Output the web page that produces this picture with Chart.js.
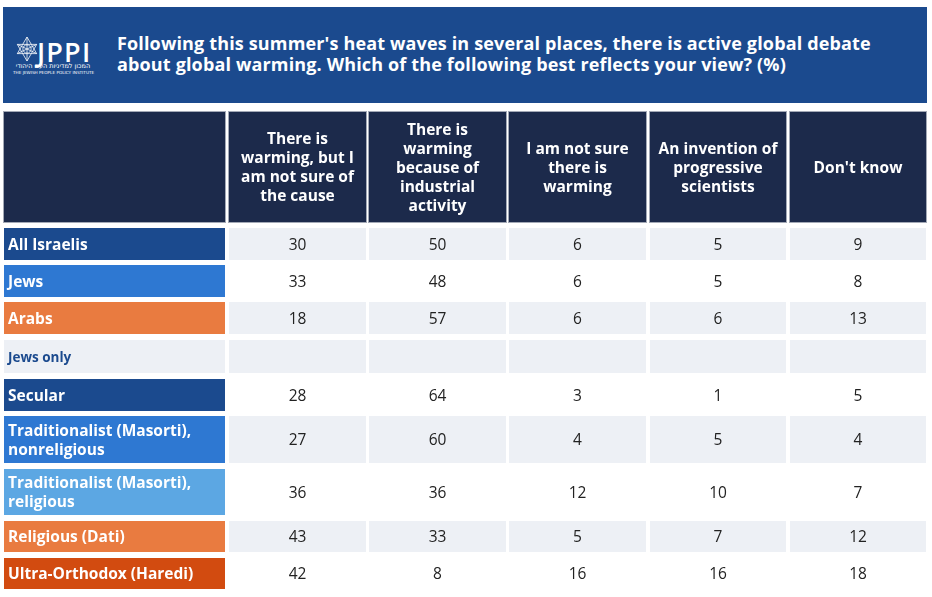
<!DOCTYPE html>
<html>
<head>
<meta charset="utf-8">
<script src="https://cdn.jsdelivr.net/npm/chart.js@4.4.1/dist/chart.umd.min.js"></script>
<style>
  html, body { margin: 0; padding: 0; background: #fff; width: 932px; height: 597px; overflow: hidden; }
  #band { position: absolute; left: 3px; top: 7px; width: 924px; height: 96px; background: #1B4A8E; }
  #title { position: absolute; left: 117px; top: 33px; color: #fff; font-family: "Open Sans", sans-serif; font-weight: 700; font-size: 18px; line-height: 21px; letter-spacing: 0.15px; white-space: nowrap; }
  #logo { position: absolute; left: 12px; top: 30px; width: 84px; height: 48px; }
  #jppi { position: absolute; left: 25px; top: 8px; color: #fff; font-family: "Open Sans", sans-serif; font-weight: 600; font-size: 27px; line-height: 27px; letter-spacing: 1.2px; }
  #heb { position: absolute; left: 1px; top: 33px; width: 80px; text-align: center; color: #fff; font-family: "DejaVu Sans", sans-serif; font-size: 6.5px; line-height: 7px; direction: rtl; white-space: nowrap; }
  #eng { position: absolute; left: 1px; top: 40px; width: 80px; text-align: center; color: #fff; font-family: "DejaVu Sans", sans-serif; font-size: 4.2px; line-height: 5px; white-space: nowrap; }
  #wrap { position: absolute; left: 0; top: 105px; width: 932px; height: 492px; }
</style>
</head>
<body>
<div id="band"></div>
<div id="logo">
  <svg width="24" height="26" viewBox="0 0 26 28" style="position:absolute;left:3px;top:6px">
    <g fill="none" stroke="#fff" stroke-width="0.9" opacity="0.95">
      <polygon points="13,1 2.5,19 23.5,19"/>
      <polygon points="13,27 2.5,9 23.5,9"/>
      <circle cx="13" cy="14" r="4.5"/>
      <line x1="13" y1="1" x2="13" y2="27"/>
      <line x1="2.5" y1="9" x2="23.5" y2="19"/>
      <line x1="2.5" y1="19" x2="23.5" y2="9"/>
    </g>
  </svg>
  <div id="jppi">JPPI</div>
  <div id="heb">המכון למדיניות העם היהודי</div>
  <div id="eng">THE JEWISH PEOPLE POLICY INSTITUTE</div>
</div>
<div id="title">Following this summer's heat waves in several places, there is active global debate<br>about global warming. Which of the following best reflects your view? (%)</div>
<div id="wrap"><canvas id="c" width="932" height="492"></canvas></div>

<script>
// ---------- DATA ----------
const columnHeaders = [
  ['There is', 'warming, but I', 'am not sure of', 'the cause'],
  ['There is', 'warming', 'because of', 'industrial', 'activity'],
  ['I am not sure', 'there is', 'warming'],
  ['An invention of', 'progressive', 'scientists'],
  ["Don't know"]
];
const rowLabels = [
  ['All Israelis'],
  ['Jews'],
  ['Arabs'],
  ['Jews only'],
  ['Secular'],
  ['Traditionalist (Masorti),', 'nonreligious'],
  ['Traditionalist (Masorti),', 'religious'],
  ['Religious (Dati)'],
  ['Ultra-Orthodox (Haredi)']
];
const warmingUnsureCause   = [30, 33, 18, null, 28, 27, 36, 43, 42];
const warmingIndustrial    = [50, 48, 57, null, 64, 60, 36, 33, 8];
const notSureWarming       = [6, 6, 6, null, 3, 4, 12, 5, 16];
const progressiveInvention = [5, 5, 6, null, 1, 5, 10, 7, 16];
const dontKnow             = [9, 8, 13, null, 5, 4, 7, 12, 18];
const seriesValues = [warmingUnsureCause, warmingIndustrial, notSureWarming, progressiveInvention, dontKnow];

// ---------- LAYOUT (page pixel units) ----------
const COL_BOUNDS = [[3, 226], [228, 367], [368, 507], [508, 647], [649, 787], [789, 927]];
const ROW_BOUNDS = [[111, 223], [227, 261], [264, 298], [301, 335], [339, 374], [378, 412], [415, 464], [468, 516], [520, 553], [557, 590]];

// ---------- STYLES ----------
const HEADER_BG = '#1C2A4B';
const HEADER_BORDER = '#A3A9B6';
const GRAY = '#EDF0F5';
const WHITE = '#FFFFFF';
const LABEL_BG = ['#1B4A8E', '#2E78D2', '#E97B40', GRAY, '#1B4A8E', '#2E78D2', '#5CA7E3', '#E97B40', '#D24B10'];
const STRIPE = [GRAY, WHITE, GRAY, GRAY, WHITE, GRAY, WHITE, GRAY, WHITE];
const FONT = '"Open Sans", sans-serif';

function cellBg(r, c) {
  if (r === 0) return HEADER_BG;
  if (c === 0) return LABEL_BG[r - 1];
  return STRIPE[r - 1];
}
function cellBorder(r, c) {
  if (r === 0) return HEADER_BORDER;
  if (c === 0 && r - 1 !== 3) return 'rgba(255,255,255,0.35)';
  return 'rgba(0,0,0,0)';
}

const datasets = ROW_BOUNDS.map((rb, r) => ({
  label: r === 0 ? 'header' : rowLabels[r - 1].join(' '),
  data: COL_BOUNDS.map(cb => ({ x: [cb[0], cb[1]], y: (rb[0] + rb[1]) / 2 })),
  barThickness: rb[1] - rb[0],
  backgroundColor: COL_BOUNDS.map((_, c) => cellBg(r, c)),
  borderColor: COL_BOUNDS.map((_, c) => cellBorder(r, c)),
  borderWidth: 1,
  borderSkipped: false,
  inflateAmount: 0
}));

const cellText = {
  id: 'cellText',
  afterDatasetsDraw(chart) {
    const ctx = chart.ctx;
    ctx.save();
    ctx.textBaseline = 'middle';
    const dy = 1.5;
    chart.data.datasets.forEach((ds, r) => {
      const meta = chart.getDatasetMeta(r);
      meta.data.forEach((el, c) => {
        const p = el.getProps(['x', 'y', 'base'], true);
        const left = Math.min(p.x, p.base), right = Math.max(p.x, p.base);
        const cy = p.y + dy;
        if (r === 0) {
          if (c === 0) return;
          const lines = columnHeaders[c - 1];
          ctx.fillStyle = '#FFFFFF';
          ctx.font = '700 15.5px ' + FONT;
          ctx.textAlign = 'center';
          const lh = 19;
          lines.forEach((ln, i) => ctx.fillText(ln, (left + right) / 2, cy + (i - (lines.length - 1) / 2) * lh));
        } else if (c === 0) {
          const lines = rowLabels[r - 1];
          const isSub = (r - 1) === 3;
          ctx.fillStyle = isSub ? '#1B4A8E' : '#FFFFFF';
          ctx.font = isSub ? '700 13.5px ' + FONT : '700 15.5px ' + FONT;
          ctx.textAlign = 'left';
          const lh = 19;
          lines.forEach((ln, i) => ctx.fillText(ln, left + 5, cy + (i - (lines.length - 1) / 2) * lh));
        } else {
          const v = seriesValues[c - 1][r - 1];
          if (v === null || v === undefined) return;
          ctx.fillStyle = '#222222';
          ctx.font = '400 15.5px ' + FONT;
          ctx.textAlign = 'center';
          ctx.fillText(String(v), (left + right) / 2, cy);
        }
      });
    });
    ctx.restore();
  }
};

new Chart(document.getElementById('c'), {
  type: 'bar',
  data: { datasets },
  options: {
    indexAxis: 'y',
    responsive: false,
    animation: false,
    events: [],
    layout: { padding: 0 },
    plugins: { legend: { display: false }, tooltip: { enabled: false }, title: { display: false } },
    scales: {
      x: { type: 'linear', min: 0, max: 932, display: false, offset: false },
      y: { type: 'linear', min: 105, max: 597, reverse: true, display: false, stacked: true, offset: false }
    }
  },
  plugins: [cellText]
});
</script>
</body>
</html>
